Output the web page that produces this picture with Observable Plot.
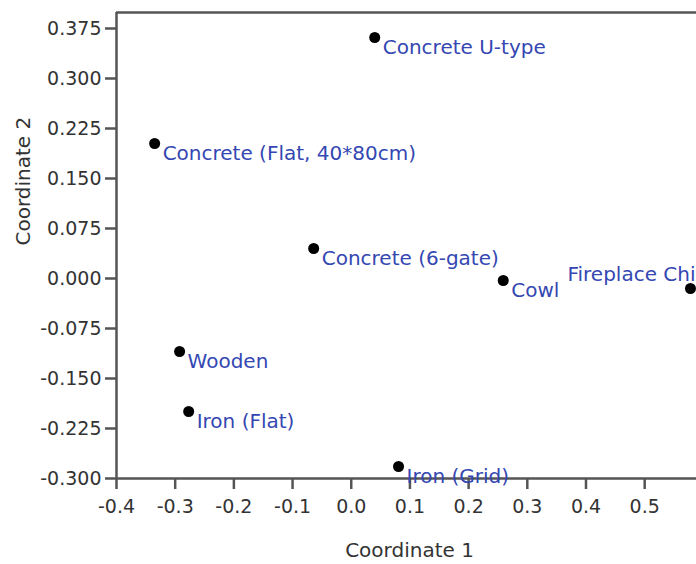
<!DOCTYPE html>
<html>
<head>
<meta charset="utf-8">
<script src="https://cdn.jsdelivr.net/npm/d3@7"></script>
<script src="https://cdn.jsdelivr.net/npm/@observablehq/plot@0.6"></script>
<style>
  html, body { margin: 0; padding: 0; background: #fff; overflow: hidden; }
  #chart { width: 696px; height: 564px; }
</style>
</head>
<body>
<div id="chart"></div>
<script>
const names = ["Concrete U-type", "Concrete (Flat, 40*80cm)", "Concrete (6-gate)", "Cowl", "Fireplace Chimney", "Wooden", "Iron (Flat)", "Iron (Grid)"];
const coord1 = [0.040, -0.335, -0.064, 0.259, 0.578, -0.2925, -0.277, 0.0806];
const coord2 = [0.3615, 0.2025, 0.045, -0.003, -0.015, -0.1095, -0.1995, -0.282];
const xTicks = [-0.4, -0.3, -0.2, -0.1, 0.0, 0.1, 0.2, 0.3, 0.4, 0.5];
const yTicks = [-0.300, -0.225, -0.150, -0.075, 0.000, 0.075, 0.150, 0.225, 0.300, 0.375];
const xTitle = "Coordinate 1";
const yTitle = "Coordinate 2";

const data = names.map((n, i) => ({name: n, c1: coord1[i], c2: coord2[i]}));
const edgeLabel = "Fireplace Chimney";

const axisColor = "#555";
const labelColor = "#3447b2";
const font = "DejaVu Sans, Verdana, sans-serif";
const locale = d3.formatLocale({decimal: ".", thousands: ",", grouping: [3], currency: ["", ""], minus: "-"});

const plot = Plot.plot({
  width: 696,
  height: 564,
  marginLeft: 116,
  marginRight: 0,
  marginTop: 12,
  marginBottom: 86,
  style: {fontFamily: font, fontSize: "16px", color: "#333", background: "#fff"},
  x: {domain: [-0.4, 0.5883], axis: null},
  y: {domain: [-0.3, 0.399], axis: null},
  marks: [
    Plot.axisY({ticks: yTicks, tickFormat: locale.format(".3f"), tickSize: 11, tickPadding: 4,
      stroke: axisColor, strokeWidth: 2.5, fontSize: 19, fill: "#333", label: null}),
    Plot.axisX({ticks: xTicks, tickFormat: locale.format(".1f"), tickSize: 11, tickPadding: 10,
      stroke: axisColor, strokeWidth: 2.5, fontSize: 19, fill: "#333", label: null}),
    Plot.text([xTitle], {frameAnchor: "bottom", dx: 3, dy: 78, fontSize: 20, fill: "#333"}),
    Plot.text([yTitle], {frameAnchor: "left", rotate: -90, dx: -93, fontSize: 20, fill: "#333"}),
    Plot.ruleX([-0.4], {stroke: axisColor, strokeWidth: 2.5}),
    Plot.ruleY([-0.3], {stroke: axisColor, strokeWidth: 2.5}),
    Plot.ruleY([0.399], {stroke: axisColor, strokeWidth: 2.5}),
    Plot.dot(data, {x: "c1", y: "c2", r: 5.5, fill: "#000", stroke: "none"}),
    Plot.text(data.filter(d => d.name !== edgeLabel), {x: "c1", y: "c2", text: "name",
      textAnchor: "start", dx: 8, dy: 10, fill: labelColor, fontSize: 20}),
    Plot.text(data.filter(d => d.name === edgeLabel), {x: "c1", y: "c2", text: "name",
      textAnchor: "start", dx: -123, dy: -14, fill: labelColor, fontSize: 20})
  ]
});
document.getElementById("chart").appendChild(plot);
</script>
</body>
</html>
